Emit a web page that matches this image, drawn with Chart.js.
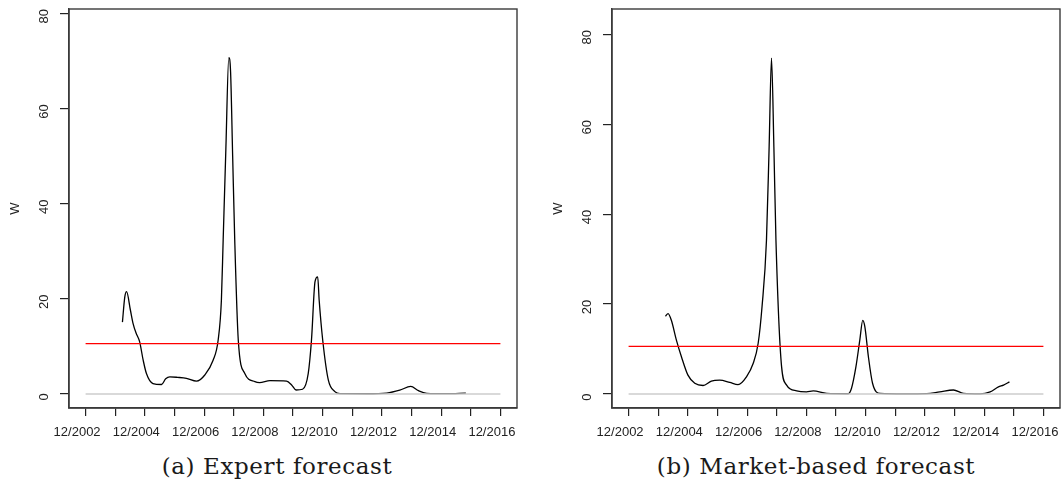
<!DOCTYPE html>
<html>
<head>
  <meta charset="utf-8" />
  <title>W forecast</title>
  <style>
    body { margin: 0; background: #fff; }
    #page { position: relative; width: 1064px; height: 484px; overflow: hidden; }
    .panel { position: absolute; top: 0; height: 448px; width: 532px; }
    .cap {
      position: absolute; top: 455px;
      font-family: "DejaVu Serif", serif; font-size: 23px; line-height: 1;
      letter-spacing: 0.6px; color: #1a1a1a; white-space: nowrap;
      transform: translateX(-50%);
    }
  </style>
</head>
<body>
<div id="page">
  <div class="panel" style="left:0"><canvas id="expert"></canvas></div>
  <div class="panel" style="left:532px"><canvas id="market"></canvas></div>
  <div class="cap" style="left:277px">(a) Expert forecast</div>
  <div class="cap" style="left:816px">(b) Market-based forecast</div>
</div>

<script src="https://cdn.jsdelivr.net/npm/chart.js@4.4.0/dist/chart.umd.min.js"></script>
<script>
  // x axis: every December, labels only on even years
  const tickLabels = ['12/2002', '12/2003', '12/2004', '12/2005', '12/2006', '12/2007', '12/2008',
    '12/2009', '12/2010', '12/2011', '12/2012', '12/2013', '12/2014', '12/2015', '12/2016'];
  const yTicks = [0, 20, 40, 60, 80];

  // (a) expert forecast, time in decimal years
  const expertT = [2004.16, 2004.24, 2004.30, 2004.43, 2004.52, 2004.62, 2004.74, 2004.86, 2004.97,
    2005.19, 2005.48, 2005.62, 2005.76, 2006.02, 2006.32, 2006.66, 2006.94, 2007.22, 2007.39,
    2007.50, 2007.56, 2007.65, 2007.75, 2007.81, 2007.88, 2007.95, 2008.07, 2008.29, 2008.63,
    2008.79, 2009.14, 2009.70, 2009.87, 2010.02, 2010.24, 2010.43, 2010.54, 2010.66, 2010.75,
    2010.80, 2010.92, 2011.11, 2011.33, 2011.50, 2012.42, 2013.08, 2013.52, 2013.89, 2014.15,
    2014.43, 2015.10, 2015.75];
  const expertW = [15.1, 20.4, 21.5, 17.6, 14.8, 12.8, 11.0, 7.1, 4.3,
    2.2, 2.0, 3.2, 3.6, 3.5, 3.3, 2.7, 4.0, 7.1, 11.3,
    19.7, 32.4, 51.3, 70.7, 67.7, 50.0, 32.4, 11.3, 4.3, 2.6,
    2.4, 2.8, 2.7, 1.9, 0.84, 1.0, 4.3, 11.3, 23.6, 24.6,
    19.7, 11.3, 2.9, 0.5, 0.07, 0.05, 0.2, 0.8, 1.6, 0.7,
    0.15, 0.07, 0.2];
  const expertLevel = 10.57;

  // (b) market-based forecast
  const marketT = [2004.16, 2004.25, 2004.36, 2004.53, 2004.70, 2004.92, 2005.15, 2005.43, 2005.71,
    2005.99, 2006.33, 2006.61, 2006.90, 2007.12, 2007.29, 2007.42, 2007.57, 2007.66, 2007.74,
    2007.82, 2007.89, 2008.08, 2008.25, 2008.59, 2008.92, 2009.15, 2009.60, 2010.33, 2010.44,
    2010.59, 2010.72, 2010.82, 2010.89, 2011.01, 2011.15, 2011.40, 2012.22, 2012.98, 2013.42,
    2013.88, 2014.22, 2014.78, 2015.12, 2015.40, 2015.57, 2015.77];
  const marketW = [17.3, 17.9, 16.4, 12.0, 8.3, 4.2, 2.4, 1.9, 2.9,
    3.1, 2.6, 2.1, 3.9, 6.8, 11.3, 19.4, 34.2, 55.0, 74.7,
    55.0, 34.2, 6.1, 2.0, 0.7, 0.5, 0.7, 0.15, 0.07, 1.3,
    6.1, 12.0, 16.4, 15.0, 8.3, 2.4, 0.15, 0.05, 0.1, 0.5,
    0.9, 0.15, 0.05, 0.5, 1.6, 2.0, 2.7];
  const marketLevel = 10.6;

  const tickPos = tickLabels.map(s => {
    const [m, y] = s.split('/').map(Number);
    return y + (m - 1) / 12;
  });

  const axisFont = { family: '"Liberation Sans", Arial, sans-serif', size: 13 };
  const frameColor = '#3a3a3a';

  // R style box round the plot region
  const boxPlugin = {
    id: 'box',
    afterDatasetsDraw(chart) {
      const a = chart.chartArea, c = chart.ctx;
      c.save();
      c.strokeStyle = frameColor;
      c.lineWidth = 1.4;
      c.strokeRect(a.left, a.top, a.right - a.left, a.bottom - a.top);
      c.restore();
    }
  };

  function drawPanel(id, t, w, level, yMin, yMax, yAxisWidth, titlePad, rightPad) {
    const x0 = tickPos[0], x1 = tickPos[tickPos.length - 1];
    const ext = (x1 - x0) * 0.04;
    new Chart(document.getElementById(id), {
      type: 'line',
      data: {
        datasets: [
          { data: [{ x: x0, y: 0 }, { x: x1, y: 0 }], borderColor: '#cdcdcd', borderWidth: 1.4, pointRadius: 0 },
          { data: [{ x: x0, y: level }, { x: x1, y: level }], borderColor: '#ff0000', borderWidth: 1.2, pointRadius: 0 },
          { data: t.map((x, i) => ({ x: x, y: w[i] })), borderColor: '#000', borderWidth: 1.3,
            pointRadius: 0, cubicInterpolationMode: 'monotone' }
        ]
      },
      options: {
        responsive: true,
        maintainAspectRatio: false,
        animation: false,
        layout: { padding: { top: 9, right: rightPad, left: 0, bottom: 0 } },
        plugins: { legend: { display: false }, tooltip: { enabled: false } },
        scales: {
          x: {
            type: 'linear',
            min: x0 - ext,
            max: x1 + ext,
            afterBuildTicks: s => { s.ticks = tickPos.map(v => ({ value: v })); },
            afterFit: s => { s.height = 40; s.paddingLeft = 0; s.paddingRight = 0; },
            grid: { drawOnChartArea: false, tickLength: 8, color: '#222', lineWidth: 1.2 },
            border: { display: true, color: frameColor, width: 1.4 },
            ticks: {
              autoSkip: false, maxRotation: 0, padding: 9, labelOffset: -8.5,
              color: '#222', font: axisFont,
              callback: (v, i) => (i % 2 === 0 ? tickLabels[i] : '')
            }
          },
          y: {
            min: yMin,
            max: yMax,
            afterBuildTicks: s => { s.ticks = yTicks.map(v => ({ value: v })); },
            afterFit: s => { s.width = yAxisWidth; s.paddingTop = 0; s.paddingBottom = 0; },
            grid: { drawOnChartArea: false, tickLength: 9, color: '#222', lineWidth: 1.2 },
            border: { display: true, color: frameColor, width: 1.4 },
            ticks: {
              minRotation: 90, maxRotation: 90, crossAlign: 'center', padding: 8, labelOffset: 3,
              color: '#222', font: axisFont,
              callback: v => String(v)
            },
            title: { display: true, text: 'W', color: '#222', font: axisFont, padding: { top: titlePad - 0.3, bottom: 0 } }
          }
        }
      },
      plugins: [boxPlugin]
    });
  }

  drawPanel('expert', expertT, expertW, expertLevel, -2.94, 80.9, 69, 7.5, 15);
  drawPanel('market', marketT, marketW, marketLevel, -3.1, 85.6, 80, 18.8, 4);
</script>
</body>
</html>
